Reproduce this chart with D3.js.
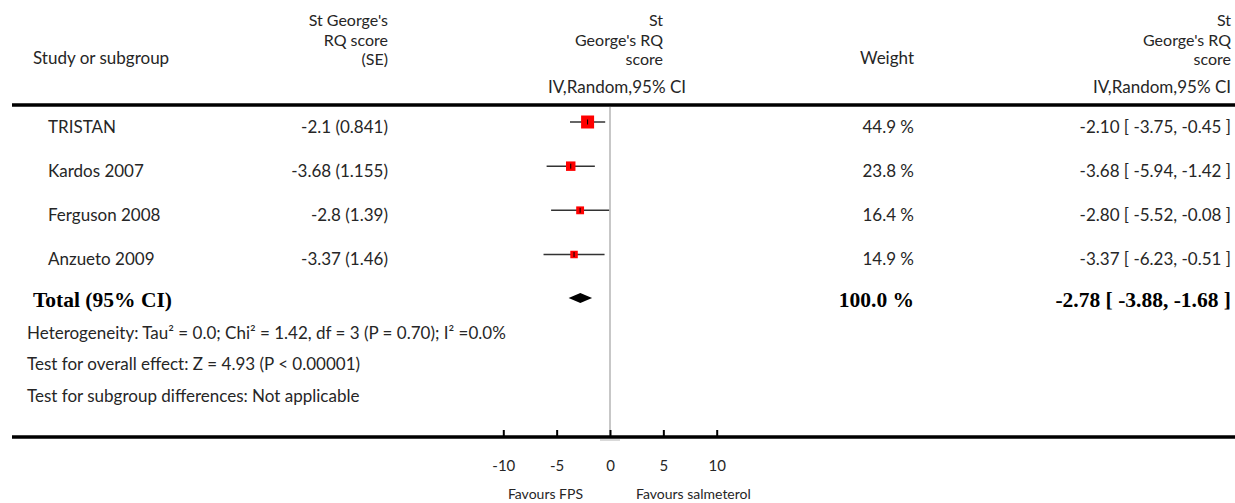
<!DOCTYPE html>
<html lang="en">
  <head>
    <meta charset="UTF-8" />
    <title>Forest plot - St George's RQ score</title>
    <script src="https://d3js.org/d3.v7.min.js"></script>
    <style>
      body {
        margin: 0;
        background: #fff;
      }
      .txt {
        font-family: Lato, "Open Sans", sans-serif;
        font-size: 17px;
        fill: #262626;
      }
      .head {
        font-size: 16px;
      }
      .bold {
        font-family: "Liberation Serif", serif;
        font-weight: bold;
        font-size: 21.5px;
        fill: #000;
      }
    </style>
  </head>
  <body>
    <svg id="svg" width="1235" height="503"></svg>
    <script>
      // data
      const studies = ["TRISTAN", "Kardos 2007", "Ferguson 2008", "Anzueto 2009"];
      const seLabels = ["-2.1 (0.841)", "-3.68 (1.155)", "-2.8 (1.39)", "-3.37 (1.46)"];
      const estimates = [-2.1, -3.68, -2.8, -3.37];
      const lower = [-3.75, -5.94, -5.52, -6.23];
      const upper = [-0.45, -1.42, -0.08, -0.51];
      const weights = [44.9, 23.8, 16.4, 14.9];
      const total = { est: -2.78, lo: -3.88, hi: -1.68, weight: 100.0 };
      const axisTicks = [-10, -5, 0, 5, 10];
      const footnotes = [
        "Heterogeneity: Tau² = 0.0; Chi² = 1.42, df = 3 (P = 0.70); I² =0.0%",
        "Test for overall effect: Z = 4.93 (P < 0.00001)",
        "Test for subgroup differences: Not applicable",
      ];

      const svg = d3.select("#svg");
      // plain hyphen instead of d3's unicode minus
      const fmt = (v) => v.toFixed(2);

      const x = d3.scaleLinear().domain([-10, 10]).range([503.3, 716.7]);
      const y = d3.scalePoint().domain(studies).range([127, 259.5]);
      const size = d3.scaleSqrt().domain([0, 44.9]).range([0, 13]);

      const axisY = 437;

      // header
      const head = svg.append("g").attr("class", "txt");
      head.append("text").attr("x", 33).attr("y", 64).style("font-size", "17px").text("Study or subgroup");
      [["St George's", 26], ["RQ score", 45.5], ["(SE)", 65]].forEach(([t, yy]) =>
        head.append("text").attr("class", "head").attr("x", 388).attr("y", yy).attr("text-anchor", "end").text(t));
      [["St", 26], ["George's RQ", 45.5], ["score", 65]].forEach(([t, yy]) => {
        head.append("text").attr("class", "head").attr("x", 663).attr("y", yy).attr("text-anchor", "end").text(t);
        head.append("text").attr("class", "head").attr("x", 1231).attr("y", yy).attr("text-anchor", "end").text(t);
      });
      head.append("text").attr("x", 914).attr("y", 64).attr("text-anchor", "end").text("Weight");
      head.append("text").attr("x", 686).attr("y", 93).attr("text-anchor", "end").text("IV,Random,95% CI");
      head.append("text").attr("x", 1231).attr("y", 93).attr("text-anchor", "end").text("IV,Random,95% CI");

      // top rule
      svg.append("line")
        .attr("x1", 12).attr("x2", 1235)
        .attr("y1", 105).attr("y2", 105)
        .attr("stroke", "#000").attr("stroke-width", 3.5);

      // zero line
      svg.append("line")
        .attr("x1", x(0)).attr("x2", x(0))
        .attr("y1", 107).attr("y2", axisY)
        .attr("stroke", "#b4b4b4").attr("stroke-width", 1.5);

      // study rows
      const rows = svg.append("g").selectAll("g")
        .data(studies.map((s, i) => ({ s, i })))
        .enter().append("g")
        .attr("transform", (d) => `translate(0,${y(d.s)})`);

      rows.append("text").attr("class", "txt").attr("x", 48).attr("dy", "0.35em").text((d) => d.s);
      rows.append("text").attr("class", "txt").attr("x", 388).attr("dy", "0.35em")
        .attr("text-anchor", "end").text((d) => seLabels[d.i]);
      rows.append("text").attr("class", "txt").attr("x", 914).attr("dy", "0.35em")
        .attr("text-anchor", "end").text((d) => weights[d.i].toFixed(1) + " %");
      rows.append("text").attr("class", "txt").attr("x", 1231).attr("dy", "0.35em")
        .attr("text-anchor", "end")
        .text((d) => `${fmt(estimates[d.i])} [ ${fmt(lower[d.i])}, ${fmt(upper[d.i])} ]`);

      const marks = rows.append("g").attr("transform", "translate(0,-5)");
      marks.append("line")
        .attr("x1", (d) => x(lower[d.i])).attr("x2", (d) => x(upper[d.i]))
        .attr("stroke", "#333").attr("stroke-width", 1.5);
      marks.append("rect")
        .attr("x", (d) => x(estimates[d.i]) - size(weights[d.i]) / 2)
        .attr("y", (d) => -size(weights[d.i]) / 2)
        .attr("width", (d) => size(weights[d.i]))
        .attr("height", (d) => size(weights[d.i]))
        .attr("fill", "#ff0000");
      marks.append("line")
        .attr("x1", (d) => x(estimates[d.i])).attr("x2", (d) => x(estimates[d.i]))
        .attr("y1", -2.5).attr("y2", 2.5)
        .attr("stroke", "#000").attr("stroke-width", 1);

      // total row
      const totY = 299;
      svg.append("text").attr("class", "bold").attr("x", 33).attr("y", totY).attr("dy", "0.35em").text("Total (95% CI)");
      svg.append("text").attr("class", "bold").attr("x", 914).attr("y", totY).attr("dy", "0.35em")
        .attr("text-anchor", "end").text(total.weight.toFixed(1) + " %");
      svg.append("text").attr("class", "bold").attr("x", 1231).attr("y", totY).attr("dy", "0.35em")
        .attr("text-anchor", "end").text(`${fmt(total.est)} [ ${fmt(total.lo)}, ${fmt(total.hi)} ]`);
      svg.append("path")
        .attr("d", `M${x(total.lo)},${totY - 1}L${x(total.est)},${totY - 6}L${x(total.hi)},${totY - 1}L${x(total.est)},${totY + 4}Z`)
        .attr("fill", "#000");

      // footnotes
      svg.append("g").selectAll("text")
        .data(footnotes).enter().append("text")
        .attr("class", "txt")
        .attr("x", 27)
        .attr("y", (d, i) => 333 + i * 31.5)
        .attr("dy", "0.35em")
        .text((d) => d);

      // bottom axis
      svg.append("line")
        .attr("x1", 12).attr("x2", 1235)
        .attr("y1", axisY).attr("y2", axisY)
        .attr("stroke", "#000").attr("stroke-width", 3.5);
      svg.append("line")
        .attr("x1", x(0) - 10).attr("x2", x(0) + 10)
        .attr("y1", axisY + 3).attr("y2", axisY + 3)
        .attr("stroke", "#b4b4b4").attr("stroke-width", 1);

      const axis = d3.axisBottom(x).tickValues(axisTicks).tickSize(0).tickPadding(0)
        .tickFormat((d) => (d < 0 ? "-" + Math.abs(d) : d));
      const ax = svg.append("g").attr("transform", `translate(0,${axisY})`).call(axis);
      ax.select(".domain").remove();
      ax.selectAll(".tick line").remove();
      ax.selectAll(".tick").append("line")
        .attr("y1", -7).attr("y2", 0)
        .attr("stroke", "#000").attr("stroke-width", 2);
      ax.selectAll(".tick text")
        .attr("class", "txt")
        .attr("font-size", null).attr("font-family", null)
        .attr("y", 29).attr("dy", "0.35em")
        .style("font-size", "15px").style("fill", "#262626");

      svg.append("text").attr("class", "txt").attr("x", 583).attr("y", 494).attr("dy", "0.35em")
        .attr("text-anchor", "end").style("font-size", "14px").text("Favours FPS");
      svg.append("text").attr("class", "txt").attr("x", 636).attr("y", 494).attr("dy", "0.35em")
        .style("font-size", "14px").text("Favours salmeterol");
    </script>
  </body>
</html>
